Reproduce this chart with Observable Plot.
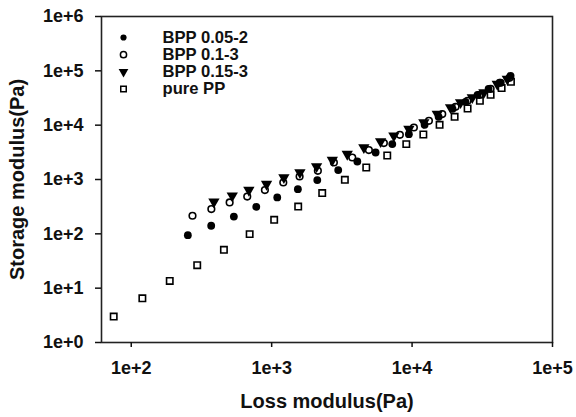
<!DOCTYPE html>
<html>
<head>
<meta charset="utf-8">
<script src="https://cdn.jsdelivr.net/npm/d3@7"></script>
<script src="https://cdn.jsdelivr.net/npm/@observablehq/plot@0.6"></script>
<style>
  html, body { margin: 0; padding: 0; background: #fff; }
  #chart { width: 576px; height: 417px; }
</style>
</head>
<body>
<div id="chart"></div>
<script>
// Series names
const seriesNames = ["BPP 0.05-2", "BPP 0.1-3", "BPP 0.15-3", "pure PP"];

// BPP 0.05-2 (filled circles)
const bpp005x = [253, 371, 538, 777, 1096, 1537, 2113, 2979, 4074, 5500, 7227, 9487, 12280, 15450, 19420, 24030, 29260, 35060, 41980, 50300];
const bpp005y = [94.6, 141, 208, 314, 467, 665, 975, 1489, 2143, 3140, 4478, 6840, 10160, 14260, 20000, 26900, 36200, 46700, 60300, 81100];

// BPP 0.1-3 (open circles)
const bpp01x = [273, 372, 502, 670, 895, 1210, 1581, 2133, 2774, 3750, 4923, 6296, 8185, 10300, 13180, 16400, 20400, 24850, 30270, 36250, 42700, 49400];
const bpp01y = [215, 285, 378, 486, 638, 881, 1135, 1445, 2056, 2541, 3475, 4677, 6653, 9060, 12020, 15990, 21780, 28050, 36200, 46700, 60300, 74500];

// BPP 0.15-3 (filled down triangles)
const bpp015x = [388, 524, 688, 920, 1222, 1589, 2089, 2704, 3453, 4535, 5969, 7418, 9487, 12130, 15110, 18790, 22140, 26840, 32460, 40430, 47640];
const bpp015y = [388, 501, 638, 822, 1089, 1345, 1734, 2275, 2933, 3881, 5000, 6370, 8450, 11190, 15990, 21130, 26120, 32280, 39900, 57000, 70500];

// pure PP (open squares)
const ppx = [75, 120, 188, 295, 457, 697, 1042, 1545, 2291, 3321, 4717, 6655, 9095, 12030, 15700, 20090, 24850, 30400, 36250, 43420, 50600];
const ppy = [3.0, 6.5, 13.6, 26.5, 50.8, 98.8, 181, 318, 562, 987, 1663, 2767, 4478, 6730, 10160, 14260, 20270, 28070, 36200, 48100, 62800];

// Tick values
const xTicks = [1e2, 1e3, 1e4, 1e5];
const yTicks = [1e0, 1e1, 1e2, 1e3, 1e4, 1e5, 1e6];

const toRows = (xs, ys) => xs.map((x, i) => ({x, y: ys[i]}));
const d005 = toRows(bpp005x, bpp005y);
const d01 = toRows(bpp01x, bpp01y);
const d015 = toRows(bpp015x, bpp015y);
const dpp = toRows(ppx, ppy);

const FONT = "Arial, 'Liberation Sans', sans-serif";
const fmt = d => "1e+" + Math.round(Math.log10(d));

const styles = [
  {symbol: "circle", fill: "black", stroke: "none", rotate: 0},
  {symbol: "circle", fill: "none", stroke: "black", rotate: 0},
  {symbol: "triangle", fill: "black", stroke: "none", rotate: 180},
  {symbol: "square", fill: "none", stroke: "black", rotate: 0}
];

const legendMarks = [];
seriesNames.forEach((name, i) => {
  const s = styles[i];
  legendMarks.push(Plot.dot([name], {
    frameAnchor: "top-left", dx: 22, dy: 21 + 17.2 * i,
    symbol: s.symbol, r: i === 2 ? 3.6 : 3.1, fill: s.fill, stroke: s.stroke, strokeWidth: 1.5, rotate: s.rotate
  }));
  legendMarks.push(Plot.text([name], {
    frameAnchor: "top-left", dx: 61, dy: 21 + 17.2 * i,
    text: d => d, textAnchor: "start", lineAnchor: "middle",
    fontSize: 16.6, fontWeight: "bold", fill: "#111"
  }));
});

const chart = Plot.plot({
  width: 576,
  height: 417,
  marginLeft: 101,
  marginRight: 24,
  marginTop: 16,
  marginBottom: 75,
  style: {fontFamily: FONT, background: "#fff", color: "#111"},
  x: {type: "log", domain: [61.4, 1e5], label: null},
  y: {type: "log", domain: [1, 1e6], label: null},
  marks: [
    Plot.frame({stroke: "#222", strokeWidth: 1.6}),
    Plot.axisX(xTicks, {tickSize: 5, tickPadding: 14, tickFormat: fmt, fontSize: 18, fontWeight: "bold", label: null, strokeWidth: 1.5}),
    Plot.axisY(yTicks, {tickSize: 6, tickPadding: 12, tickFormat: fmt, fontSize: 18, fontWeight: "bold", label: null, strokeWidth: 1.5}),
    Plot.dot(d005, {x: "x", y: "y", symbol: "circle", r: 3.9, fill: "black"}),
    Plot.dot(d01, {x: "x", y: "y", symbol: "circle", r: 3.3, fill: "none", stroke: "black", strokeWidth: 1.6}),
    Plot.dot(d015, {x: "x", y: "y", symbol: "triangle", r: 4.2, fill: "black", rotate: 180}),
    Plot.dot(dpp, {x: "x", y: "y", symbol: "square", r: 3.6, fill: "none", stroke: "black", strokeWidth: 1.6}),
    ...legendMarks,
    Plot.text(["Loss modulus(Pa)"], {frameAnchor: "bottom", dy: 65, text: d => d, textAnchor: "middle", fontSize: 20, fontWeight: "bold", fill: "#111"}),
    Plot.text(["Storage modulus(Pa)"], {frameAnchor: "left", dx: -84, rotate: -90, text: d => d, textAnchor: "middle", lineAnchor: "middle", fontSize: 20, fontWeight: "bold", fill: "#111"})
  ]
});
document.getElementById("chart").appendChild(chart);
</script>
</body>
</html>
